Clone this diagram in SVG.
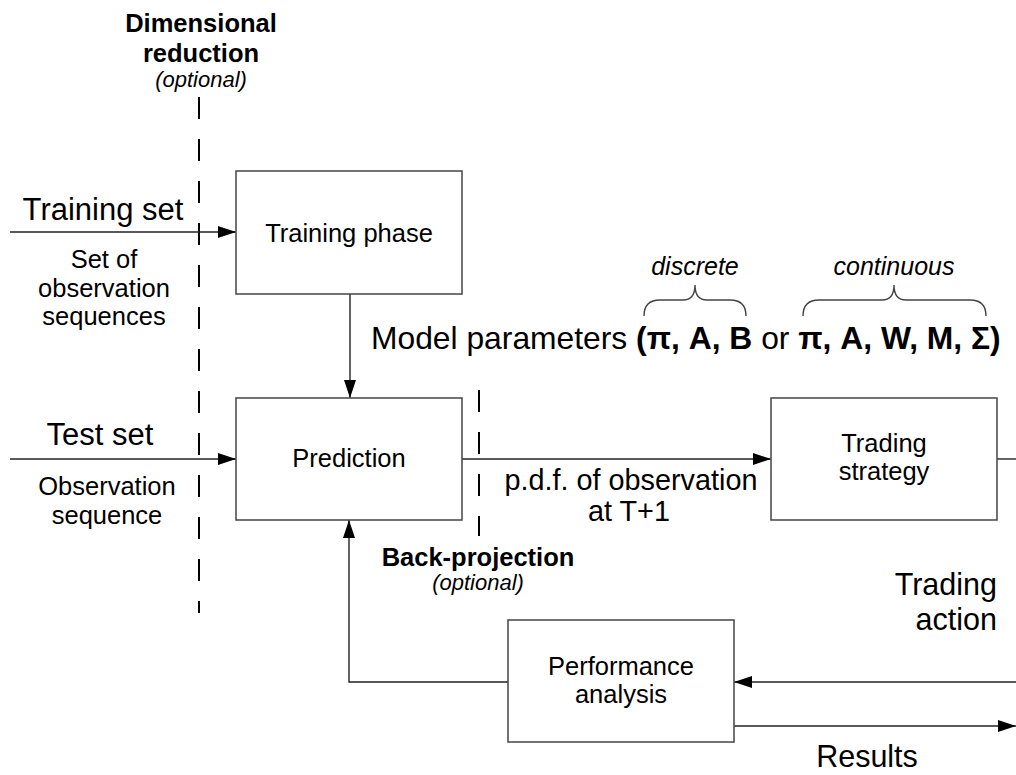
<svg xmlns="http://www.w3.org/2000/svg" width="1016" height="775" viewBox="0 0 1016 775">
  <style>
    text { font-family: "Liberation Sans", Arial, sans-serif; fill: #000; }
    .node rect { fill: #fff; stroke: #444; stroke-width: 1.5; }
    .lbl { font-size: 25.5px; text-anchor: middle; }
    .big { font-size: 31px; }
    .mid { text-anchor: middle; }
    .bold { font-weight: bold; }
    .ital { font-style: italic; }
    .wire { fill: none; stroke: #222; stroke-width: 1.4; }
    .dash { fill: none; stroke: #000; stroke-width: 2; stroke-dasharray: 22 20; }
    .brace { fill: none; stroke: #444; stroke-width: 1.4; }
  </style>
  <defs>
    <marker id="arrow" viewBox="0 0 18 12" refX="18" refY="6" markerWidth="18" markerHeight="12" markerUnits="userSpaceOnUse" orient="auto">
      <path d="M0,0 L18,6 L0,12 Z" fill="#000"/>
    </marker>
  </defs>

  <rect width="1016" height="775" fill="#fff"/>

  <!-- optional processing stages (dashed separators) -->
  <g id="dimensional-reduction">
    <line class="dash" x1="199" y1="97" x2="199" y2="613"/>
    <text class="mid bold" x="201" y="32" font-size="25.5">Dimensional</text>
    <text class="mid bold" x="201" y="62" font-size="25.5">reduction</text>
    <text class="mid ital" x="201" y="87" font-size="22">(optional)</text>
  </g>
  <g id="back-projection">
    <line class="dash" x1="479" y1="390" x2="479" y2="536"/>
    <text class="mid bold" x="478" y="566" font-size="25.5">Back-projection</text>
    <text class="mid ital" x="478" y="590" font-size="22">(optional)</text>
  </g>

  <!-- connectors -->
  <g id="connectors">
    <line class="wire" x1="10" y1="232" x2="236" y2="232" marker-end="url(#arrow)"/>
    <line class="wire" x1="10" y1="459" x2="236" y2="459" marker-end="url(#arrow)"/>
    <line class="wire" x1="350" y1="294" x2="350" y2="398" marker-end="url(#arrow)"/>
    <line class="wire" x1="462" y1="459" x2="771" y2="459" marker-end="url(#arrow)"/>
    <line class="wire" x1="997" y1="459" x2="1016" y2="459"/>
    <line class="wire" x1="1016" y1="682" x2="734" y2="682" marker-end="url(#arrow)"/>
    <polyline class="wire" points="508,682 349,682 349,520" marker-end="url(#arrow)"/>
    <line class="wire" x1="734" y1="726" x2="1016" y2="726" marker-end="url(#arrow)"/>
  </g>

  <!-- connector labels -->
  <g id="labels">
    <text class="big mid" x="103" y="220">Training set</text>
    <text class="lbl" x="104" y="268">Set of</text>
    <text class="lbl" x="104" y="297">observation</text>
    <text class="lbl" x="104" y="325">sequences</text>

    <text class="big mid" x="100" y="445">Test set</text>
    <text class="lbl" x="107" y="495">Observation</text>
    <text class="lbl" x="107" y="524">sequence</text>

    <text x="371" y="349" font-size="31.8">Model parameters <tspan class="bold">(π, A, B</tspan> or <tspan class="bold">π, A, W, M, Σ)</tspan></text>
    <text class="mid ital" x="695" y="275" font-size="25">discrete</text>
    <path class="brace" d="M644,316 Q644,300 660,300 L683,300 Q695,300 695,285 Q695,300 707,300 L730,300 Q746,300 746,316"/>
    <text class="mid ital" x="894" y="275" font-size="25">continuous</text>
    <path class="brace" d="M803,316 Q803,300 819,300 L882,300 Q894,300 894,285 Q894,300 906,300 L970,300 Q986,300 986,316"/>

    <text class="mid" x="631" y="490" font-size="28.8">p.d.f. of observation</text>
    <text class="mid" x="629" y="521" font-size="28.8">at T+1</text>

    <text x="997" y="595" font-size="30.5" text-anchor="end">Trading</text>
    <text x="997" y="630" font-size="30.5" text-anchor="end">action</text>

    <text class="mid" x="867" y="767" font-size="30.5">Results</text>
  </g>

  <!-- process nodes -->
  <g id="training-phase" class="node">
    <rect x="236" y="171" width="226" height="123"/>
    <text class="lbl" x="349" y="242">Training phase</text>
  </g>
  <g id="prediction" class="node">
    <rect x="236" y="398" width="226" height="122"/>
    <text class="lbl" x="349" y="467">Prediction</text>
  </g>
  <g id="trading-strategy" class="node">
    <rect x="771" y="398" width="226" height="122"/>
    <text class="lbl" x="884" y="452">Trading</text>
    <text class="lbl" x="884" y="480">strategy</text>
  </g>
  <g id="performance-analysis" class="node">
    <rect x="508" y="620" width="226" height="122"/>
    <text class="lbl" x="621" y="675">Performance</text>
    <text class="lbl" x="621" y="703">analysis</text>
  </g>
</svg>
